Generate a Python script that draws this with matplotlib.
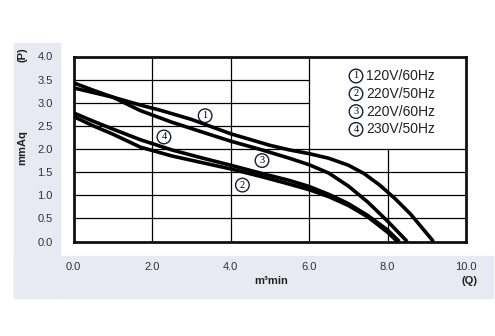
import matplotlib.pyplot as plt
from matplotlib.patches import Rectangle

# Fan P-Q curves (Q in m3/min, P in mmAq)
q1 = [0, 0.5, 1.0, 1.7, 2.2, 3.0, 4.0, 5.0, 5.5, 6.0, 6.5, 7.0, 7.4, 7.8, 8.2, 8.6, 9.17]
p1 = [3.32, 3.22, 3.12, 2.95, 2.84, 2.64, 2.33, 2.08, 1.98, 1.90, 1.80, 1.65, 1.47, 1.22, 0.92, 0.58, 0.0]

q2 = [0, 0.5, 1.0, 1.7, 2.5, 3.3, 4.0, 4.8, 5.5, 6.0, 6.5, 7.0, 7.5, 8.0, 8.25]
p2 = [2.70, 2.50, 2.32, 2.04, 1.85, 1.70, 1.57, 1.40, 1.24, 1.12, 0.97, 0.78, 0.53, 0.20, 0.0]

q3 = [0, 0.5, 1.0, 1.7, 2.5, 3.3, 4.0, 4.8, 5.5, 6.0, 6.5, 7.0, 7.5, 8.0, 8.5]
p3 = [3.43, 3.27, 3.12, 2.83, 2.58, 2.36, 2.17, 1.98, 1.80, 1.66, 1.48, 1.20, 0.85, 0.44, 0.0]

q4 = [0, 0.5, 1.0, 1.7, 2.5, 3.3, 4.0, 4.8, 5.5, 6.0, 6.5, 7.0, 7.5, 8.0, 8.3]
p4 = [2.78, 2.60, 2.43, 2.20, 1.98, 1.80, 1.65, 1.47, 1.32, 1.19, 1.02, 0.82, 0.56, 0.25, 0.0]

curve_ids = ["1", "2", "3", "4"]
legend_labels = ["120V/60Hz", "220V/50Hz", "220V/60Hz", "230V/50Hz"]
# where the circled numbers sit on the chart
tag_q = [3.35, 4.3, 4.8, 2.3]
tag_p = [2.72, 1.22, 1.75, 2.26]

x_ticks = [0, 2, 4, 6, 8, 10]
x_ticklabels = ["0.0", "2.0", "4.0", "6.0", "8.0", "10.0"]
y_ticks = [0, 0.5, 1.0, 1.5, 2.0, 2.5, 3.0, 3.5, 4.0]
y_ticklabels = ["0.0", "0.5", "1.0", "1.5", "2.0", "2.5", "3.0", "3.5", "4.0"]

W, H = 495, 336
fig = plt.figure(figsize=(W / 100, H / 100), dpi=100)

# lavender label strips, behind everything
lav = "#e9e9f3"
fig.patches.append(Rectangle((14 / W, 1 - 298 / H), 46 / W, (298 - 43) / H,
                             transform=fig.transFigure, color=lav, zorder=-5))
fig.patches.append(Rectangle((14 / W, 1 - 298 / H), (493 - 14) / W, 42 / H,
                             transform=fig.transFigure, color=lav, zorder=-5))

ax = fig.add_axes([73.7 / W, 1 - 241.5 / H, (466 - 73.7) / W, (241.5 - 56.5) / H])
ax.set_xlim(0, 10)
ax.set_ylim(0, 4)

# grid: full below 2.0, upper right left empty for the legend
for yv in [0.5, 1.0, 1.5, 2.0]:
    ax.plot([0, 10], [yv, yv], color="black", lw=0.9, zorder=1)
for yv in [2.5, 3.0, 3.5]:
    ax.plot([0, 6], [yv, yv], color="black", lw=0.9, zorder=1)
for xv in [2, 4, 6]:
    ax.plot([xv, xv], [0, 4], color="black", lw=0.9, zorder=1)
ax.plot([8, 8], [0, 2], color="black", lw=0.9, zorder=1)

for q, p in [(q1, p1), (q2, p2), (q3, p3), (q4, p4)]:
    ax.plot(q, p, color="black", lw=2.6, solid_capstyle="butt", zorder=3)

circ = dict(boxstyle="circle,pad=0.22", fc="white", ec="#1a1a3a", lw=1.0)
serif = ["Liberation Serif", "DejaVu Serif"]
for cid, qx, py in zip(curve_ids, tag_q, tag_p):
    ax.text(qx, py, cid, ha="center", va="center", fontsize=7.5,
            family=serif, bbox=circ, zorder=4)

# legend
for i, (cid, lab) in enumerate(zip(curve_ids, legend_labels)):
    yy = 1 - (76 + i * 17.8) / H
    fig.text(356 / W, yy, cid, ha="center", va="center", fontsize=7.5,
             family=serif, bbox=circ)
    t = fig.text(366 / W, yy, lab, ha="left", va="center", fontsize=10,
                 family=["Liberation Sans Narrow", "Liberation Sans", "DejaVu Sans"],
                 color="#222222")
    t.set_stretch("condensed")

for s in ax.spines.values():
    s.set_linewidth(2.0)
    s.set_color("#111111")

ax.set_xticks(x_ticks)
ax.set_xticklabels(x_ticklabels)
ax.set_yticks(y_ticks)
ax.set_yticklabels(y_ticklabels)
ax.tick_params(length=0, labelsize=8, colors="#333333", pad=15)
for t in ax.get_xticklabels() + ax.get_yticklabels():
    t.set_family(["Liberation Sans", "DejaVu Sans"])

bold = dict(fontsize=8, fontweight="bold", color="#222222",
            family=["Liberation Sans", "DejaVu Sans"])
fig.text(271 / W, 1 - 281 / H, "m³min", ha="center", va="center", **bold)
fig.text(469 / W, 1 - 281 / H, "(Q)", ha="center", va="center", **bold)
fig.text(22 / W, 1 - 148 / H, "mmAq", ha="center", va="center", rotation=90, **bold)
fig.text(22 / W, 1 - 55 / H, "(P)", ha="center", va="center", rotation=90, **bold)

fig.savefig("out.png", dpi=100)
